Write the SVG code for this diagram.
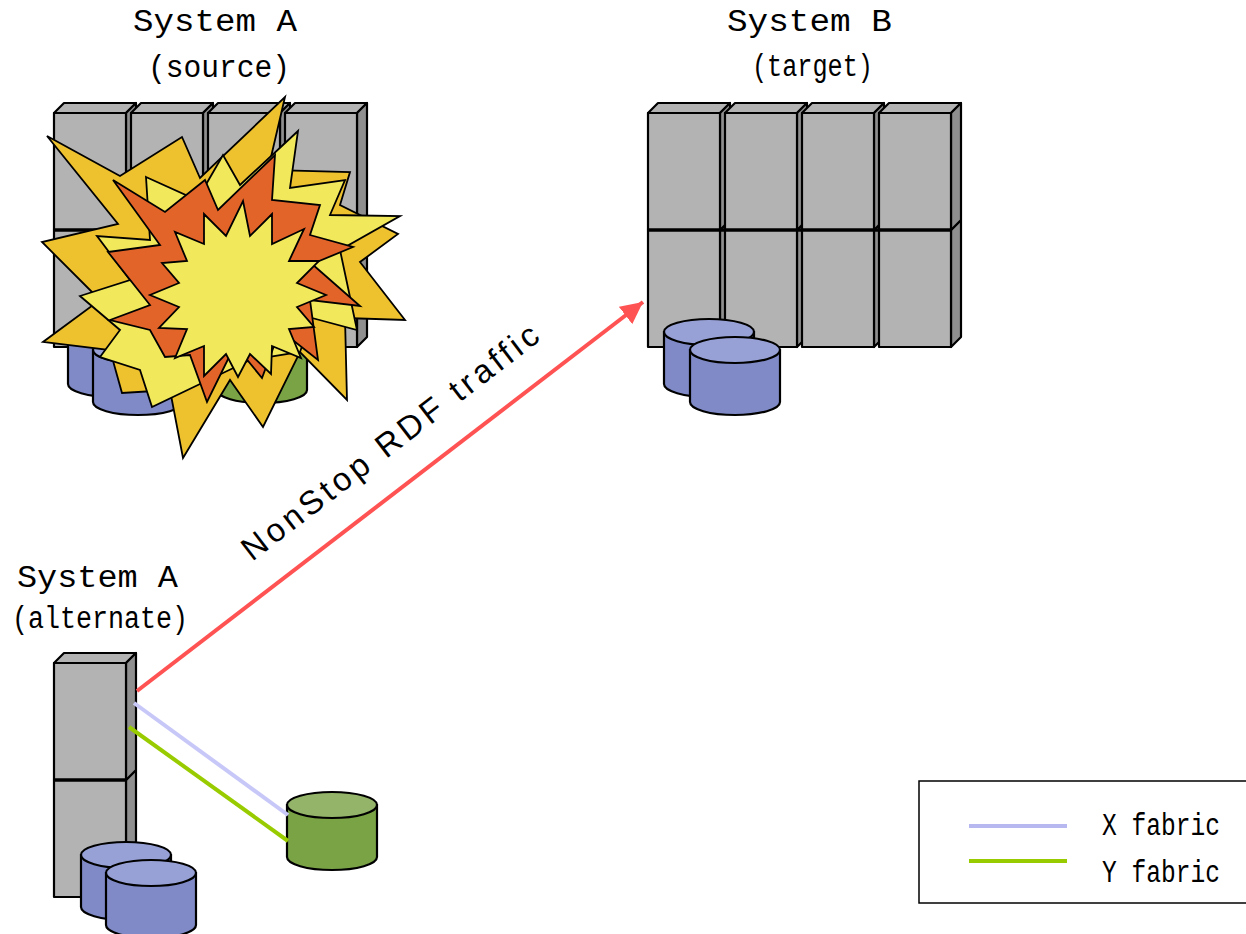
<svg xmlns="http://www.w3.org/2000/svg" xmlns:xlink="http://www.w3.org/1999/xlink" width="1246" height="934" viewBox="0 0 1246 934">
  <style>
    .face { fill: #b3b3b3; stroke: #000; stroke-width: 2.2; stroke-linejoin: round; }
    .side { fill: #8f8f8f; stroke: #000; stroke-width: 2.2; stroke-linejoin: round; }
    .divider { stroke: #000; stroke-width: 3.5; }
    .blue-body { fill: #7f8ac7; stroke: #000; stroke-width: 2.2; }
    .blue-top { fill: #97a1d6; stroke: #000; stroke-width: 2.2; }
    .green-body { fill: #7aa345; stroke: #000; stroke-width: 2.2; }
    .green-top { fill: #93b469; stroke: #000; stroke-width: 2.2; }
    .title { font-family: "Liberation Mono", "DejaVu Sans Mono", monospace; font-size: 31px; fill: #000; }
    .blast { stroke: #000; stroke-width: 1.8; stroke-linejoin: miter; }
    .gold { fill: #eec12e; }
    .yellow { fill: #f2e85c; }
    .orange { fill: #e36428; }
  </style>
  <defs>
    <!-- one cabinet: top face, side face, front face -->
    <g id="box">
      <polygon class="face" points="0,10 10,0 82,0 72,10"/>
      <polygon class="side" points="72,10 82,0 82,117 72,127"/>
      <rect class="face" x="0" y="10" width="72" height="117"/>
    </g>
    <g id="disk-blue">
      <path class="blue-body" d="M-45,0 V52 A45,13 0 0 0 45,52 V0 Z"/>
      <ellipse class="blue-top" cx="0" cy="0" rx="45" ry="13"/>
    </g>
    <g id="disk-green">
      <path class="green-body" d="M-45,0 V52 A45,13 0 0 0 45,52 V0 Z"/>
      <ellipse class="green-top" cx="0" cy="0" rx="45" ry="13"/>
    </g>
    <marker id="arrow" markerUnits="userSpaceOnUse" markerWidth="24" markerHeight="22" refX="22" refY="11" orient="auto">
      <path d="M0,0 L22,11 L0,22 Z" fill="#ff5252"/>
    </marker>
  </defs>

  <!-- System A (source) -->
  <g id="system-a-source">
    <text class="title" x="133" y="31" textLength="164" lengthAdjust="spacingAndGlyphs">System A</text>
    <text class="title" x="148" y="77" textLength="142" lengthAdjust="spacingAndGlyphs">(source)</text>
    <use xlink:href="#box" x="54" y="220"/>
    <use xlink:href="#box" x="131" y="220"/>
    <use xlink:href="#box" x="208" y="220"/>
    <use xlink:href="#box" x="285" y="220"/>
    <use xlink:href="#box" x="54" y="103"/>
    <use xlink:href="#box" x="131" y="103"/>
    <use xlink:href="#box" x="208" y="103"/>
    <use xlink:href="#box" x="285" y="103"/>
    <line class="divider" x1="54" y1="230" x2="357" y2="230"/>
    <use xlink:href="#disk-blue" x="113" y="332"/>
    <use xlink:href="#disk-blue" x="138" y="350"/>
    <use xlink:href="#disk-green" x="262" y="338"/>
  </g>

  <!-- explosion over the source system -->
  <g id="explosion">
    <polygon class="blast gold" points="47,136 120,176 182,137 200,178 285,97 268,170 350,172 340,205 398,234 360,262 405,320 345,318 347,400 300,352 263,427 230,380 183,458 170,390 122,393 110,350 43,342 100,300 42,242 118,224"/>
    <polygon class="blast yellow" points="146,177 197,200 223,155 240,185 298,131 290,188 345,180 330,215 400,216 340,250 357,330 312,318 300,352 250,360 152,407 140,370 100,357 120,330 80,296 130,280 97,236 150,240"/>
    <polygon class="blast orange" points="113,180 165,212 205,180 218,210 275,155 272,200 320,205 310,235 353,247 312,264 360,306 310,300 318,360 280,330 262,378 235,345 207,402 190,355 165,357 150,330 110,320 150,305 108,252 160,245"/>
    <polygon class="blast yellow" points="243,201 250,236 272,214 272,244 304,229 289,261 319,261 297,283 326,295 297,307 314,327 289,329 301,358 272,346 271,374 250,354 238,377 226,354 204,376 204,346 175,358 187,329 159,328 179,307 150,295 179,283 162,263 187,261 175,232 204,244 204,214 226,236"/>
  </g>

  <!-- System B (target) -->
  <g id="system-b-target">
    <text class="title" x="727" y="31" textLength="165" lengthAdjust="spacingAndGlyphs">System B</text>
    <text class="title" x="752" y="76" textLength="121" lengthAdjust="spacingAndGlyphs">(target)</text>
    <use xlink:href="#box" x="648" y="220"/>
    <use xlink:href="#box" x="725" y="220"/>
    <use xlink:href="#box" x="802" y="220"/>
    <use xlink:href="#box" x="879" y="220"/>
    <use xlink:href="#box" x="648" y="103"/>
    <use xlink:href="#box" x="725" y="103"/>
    <use xlink:href="#box" x="802" y="103"/>
    <use xlink:href="#box" x="879" y="103"/>
    <line class="divider" x1="648" y1="230" x2="951" y2="230"/>
    <use xlink:href="#disk-blue" x="709" y="332"/>
    <use xlink:href="#disk-blue" x="735" y="350"/>
  </g>

  <!-- System A (alternate) -->
  <g id="system-a-alternate">
    <text class="title" x="17" y="587" textLength="161" lengthAdjust="spacingAndGlyphs">System A</text>
    <text class="title" x="12" y="628" textLength="176" lengthAdjust="spacingAndGlyphs">(alternate)</text>
    <use xlink:href="#box" x="54" y="770"/>
    <use xlink:href="#box" x="54" y="653"/>
    <line class="divider" x1="54" y1="780" x2="126" y2="780"/>
    <use xlink:href="#disk-blue" x="126" y="855"/>
    <use xlink:href="#disk-blue" x="151" y="873"/>
  </g>

  <!-- mirrored disk on the alternate system -->
  <g id="mirror-disk">
    <use xlink:href="#disk-green" x="332" y="805"/>
  </g>

  <!-- connectors -->
  <g id="connectors" fill="none" stroke-linecap="butt">
    <line x1="134" y1="703" x2="288" y2="815" stroke="#c8c8f8" stroke-width="4"/>
    <line x1="129" y1="727" x2="288" y2="841" stroke="#99cc00" stroke-width="4"/>
    <line x1="137" y1="691" x2="643" y2="302" stroke="#ff5252" stroke-width="4" marker-end="url(#arrow)"/>
    <text x="252" y="562" transform="rotate(-37.5 252 562)" font-family="'Liberation Sans', Arial, sans-serif" font-size="33" fill="#000" stroke="none" textLength="365" lengthAdjust="spacing">NonStop RDF traffic</text>
  </g>

  <!-- legend; its right edge runs to the border of the canvas -->
  <g id="legend">
    <rect x="919" y="781" width="329" height="122" fill="#fff" stroke="#000" stroke-width="1.5"/>
    <line x1="969" y1="826" x2="1067" y2="826" stroke="#b8b8f0" stroke-width="4"/>
    <line x1="969" y1="861" x2="1067" y2="861" stroke="#99cc00" stroke-width="4"/>
    <text class="title" x="1102" y="835" textLength="118" lengthAdjust="spacingAndGlyphs">X fabric</text>
    <text class="title" x="1102" y="882" textLength="118" lengthAdjust="spacingAndGlyphs">Y fabric</text>
  </g>
</svg>
